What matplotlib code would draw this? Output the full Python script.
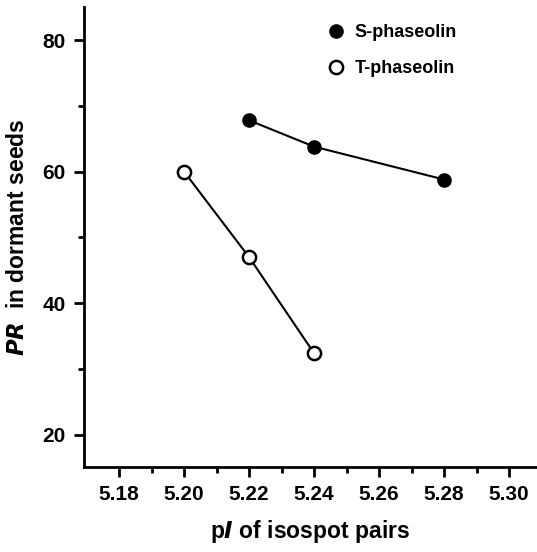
import matplotlib
matplotlib.use("Agg")
import matplotlib.pyplot as plt
from matplotlib.ticker import FixedLocator

plt.rcParams['font.family'] = ['Liberation Sans', 'DejaVu Sans']

s_pi = [5.22, 5.24, 5.28]
s_pr = [67.8, 63.8, 58.8]
t_pi = [5.20, 5.22, 5.24]
t_pr = [60.0, 47.0, 32.4]
xticks = [5.18, 5.20, 5.22, 5.24, 5.26, 5.28, 5.30]
xminor = [5.19, 5.21, 5.23, 5.25, 5.27, 5.29]
yticks = [20, 40, 60, 80]
yminor = [30, 50, 70]

fig = plt.figure(figsize=(5.37, 5.52), dpi=100)
ax = fig.add_axes([0.1564, 0.154, 0.8436, 0.833])

ax.plot(s_pi, s_pr, '-o', color='black', lw=1.5, ms=9.5, mfc='black', mec='black', label='S-phaseolin')
ax.plot(t_pi, t_pr, '-o', color='black', lw=1.5, ms=9.5, mfc='white', mec='black', mew=1.8, label='T-phaseolin')

ax.set_xlim(5.1692, 5.3086)
ax.set_ylim(15.1, 85)
ax.set_xticks(xticks)
ax.set_xticklabels([f"{v:.2f}" for v in xticks])
ax.set_yticks(yticks)
ax.xaxis.set_minor_locator(FixedLocator(xminor))
ax.yaxis.set_minor_locator(FixedLocator(yminor))
ax.spines['top'].set_visible(False)
ax.spines['right'].set_visible(False)
for sp in ['left', 'bottom']:
    ax.spines[sp].set_linewidth(2)
ax.tick_params(which='major', direction='out', length=7, width=2, labelsize=15, pad=6)
ax.tick_params(which='minor', direction='out', length=4, width=2)
for lab in ax.get_xticklabels() + ax.get_yticklabels():
    lab.set_fontweight('bold')

ax.set_xlabel(r'p$\mathbfit{I}$ of isospot pairs', fontsize=16.5, fontweight='bold', labelpad=10)
ax.set_ylabel(r'$\mathbfit{PR}$  in dormant seeds', fontsize=16.5, fontweight='bold', labelpad=10)

leg = ax.legend(loc='upper left', bbox_to_anchor=(0.505, 0.998), frameon=False,
                prop={'weight': 'bold', 'size': 13}, handlelength=0.8, handletextpad=0.6,
                labelspacing=1.05)
for h in leg.legend_handles:
    h.set_linestyle('None')

fig.savefig('out.png', dpi=100)
